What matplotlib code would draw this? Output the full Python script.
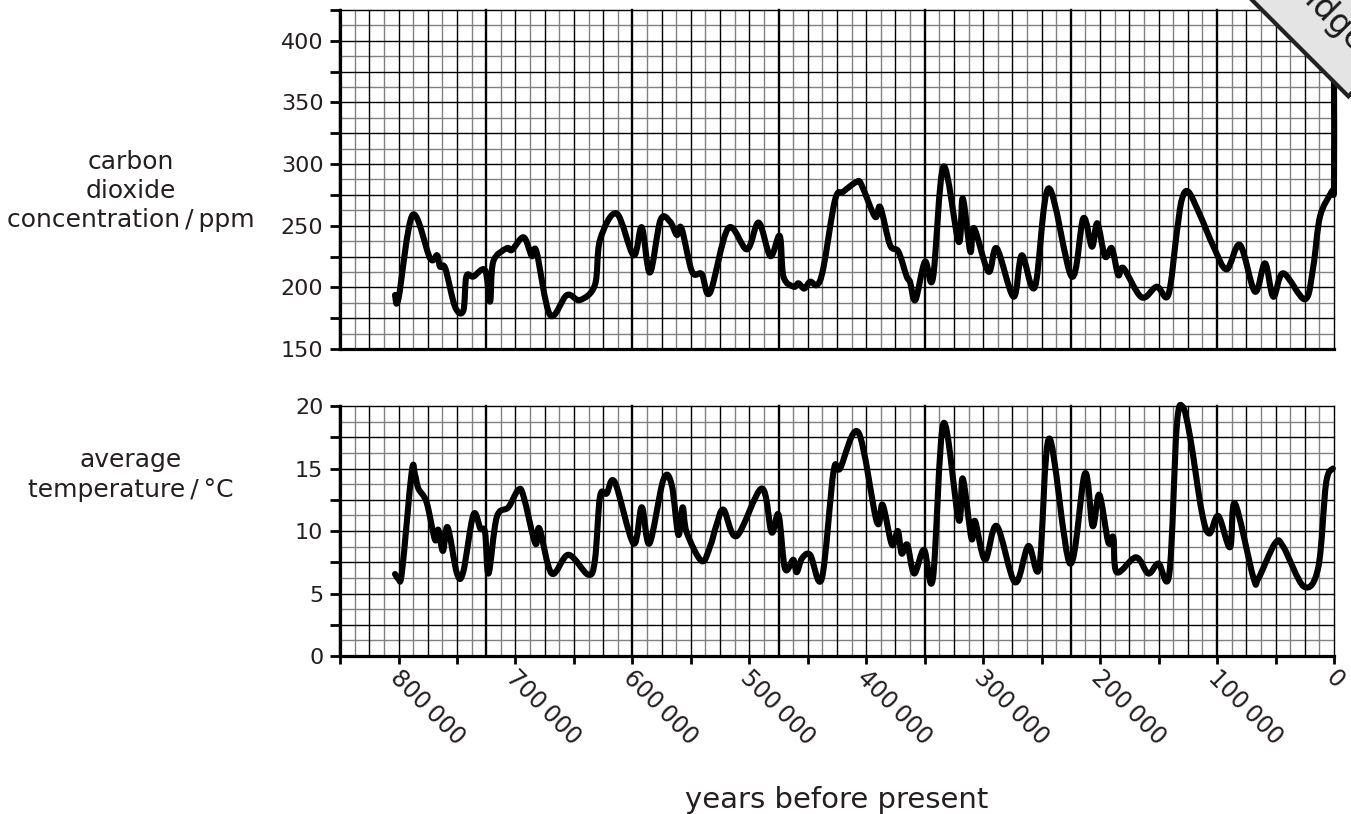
import numpy as np
import matplotlib
matplotlib.use("Agg")
import matplotlib.pyplot as plt
from matplotlib.path import Path
from matplotlib.patches import PathPatch
from matplotlib.transforms import ScaledTranslation

plt.rcParams["font.family"] = ["DejaVu Sans"]
TXT = "#231f20"

# years before present (thousands) and CO2 (ppm)
co2_kyr = [803, 800, 788, 773, 767, 764.5, 760, 751.7, 744.6, 742,
           736, 726, 721.7, 719, 707.5, 703, 693, 686, 682, 670.4,
           656, 644.8, 632, 627.7, 613.5, 599, 592, 585, 576, 567.8,
           562, 558, 549, 540.7, 533.6, 518, 502, 492, 482, 474,
           470.8, 462, 458, 453, 448, 442, 436.7, 426.7, 419.6, 408,
           404, 392.5, 388, 379.7, 372.5, 365.4, 362.6, 358, 349.8, 343,
           334, 321, 317.5, 311, 307.8, 295.5, 288.4, 274, 267, 255.7,
           244, 224.3, 214.4, 207, 202.4, 195.8, 190, 184.5, 180, 164.5,
           151.6, 141.7, 134.5, 130.2, 124.6, 114.6, 103, 91.8, 80.4, 67.6,
           59, 51.9, 43.4, 24.8, 17.7, 12, 2, 0, 0]
co2_ppm = [193.8, 191, 258.7, 223.6, 226, 216.8, 215.4, 184.3, 181, 208.7,
           208.7, 214, 188.4, 220.8, 231.7, 230.3, 240.6, 225.4, 229, 177.6,
           193.8, 189.7, 202, 238.4, 260, 226, 248.7, 212, 254.6, 253.3,
           242.5, 248, 212.7, 210.8, 195.7, 248, 230.8, 252.5, 225.4, 241.7,
           208.7, 200.5, 203.3, 199, 204.6, 202, 215.5, 270.9, 277.6, 285.7,
           283, 257.3, 265, 234.4, 229, 208.7, 204.6, 189.7, 220.8, 207.3,
           297.9, 237, 272.2, 229, 248, 212.7, 231.7, 192.4, 226, 200.5,
           280.3, 208.7, 256, 233, 252, 225, 231.7, 210, 215.5, 191.9,
           200.5, 193.8, 243.9, 270.9, 277.6, 258.7, 233, 214.6, 234.4, 196.5,
           219.5, 192.4, 211.4, 190.3, 216.8, 257.3, 277.6, 282, 370]

# years before present (thousands) and average temperature (°C)
temp_kyr = [803, 800, 797, 788.7, 785.9, 783, 776, 768.8, 766, 762,
            758, 750, 744.6, 736, 730, 726, 723, 716, 706, 697.5,
            693, 683, 679.5, 669, 654.7, 637.7, 632, 627.7, 622, 615,
            599, 592, 585.4, 573.5, 566.4, 560.7, 557, 553.6, 540.8, 533.6,
            528, 522, 510.8, 489.4, 481, 475, 469.5, 462.4, 459.5, 455,
            448, 438, 428, 422.4, 406.8, 391, 386, 378, 373, 369.7,
            364.9, 359, 350.6, 343, 334, 321, 317.5, 310, 307, 298.4,
            288.4, 272.8, 261.4, 252, 243.5, 225.8, 213, 206.4, 200.7, 193,
            188.7, 185.8, 169.3, 158.8, 150.2, 140.8, 134.5, 129.4, 123, 113,
            106.6, 98.9, 88.9, 84.7, 69, 64.7, 50.5, 43.4, 25.7, 13.4,
            6.8, 1]
temp_c = [6.56, 6.2, 6.75, 14.75, 14.5, 13.4, 12.3, 9.3, 10.1, 8.4,
          10.3, 6.6, 6.75, 11.3, 10.2, 9.9, 6.6, 11.1, 11.9, 13.3,
          12.75, 9.0, 10.2, 6.6, 8.1, 6.5, 7.7, 12.75, 13.0, 13.9,
          9.0, 11.9, 9.0, 14.1, 13.7, 9.7, 11.9, 9.9, 7.6, 8.75,
          10.5, 11.7, 9.6, 13.4, 9.9, 11.3, 7.0, 7.7, 6.7, 7.8,
          8.1, 6.2, 14.75, 15.0, 17.9, 10.75, 12.1, 8.9, 10.0, 8.2,
          8.9, 6.6, 8.5, 6.2, 18.6, 10.9, 14.2, 9.4, 10.8, 7.7,
          10.4, 5.9, 8.8, 7.1, 17.4, 7.4, 14.6, 10.4, 12.9, 9.1,
          9.5, 6.7, 7.9, 6.6, 7.4, 6.6, 18.35, 19.95, 17.5, 11.5,
          9.8, 11.2, 8.7, 12.2, 6.3, 6.2, 9.0, 8.75, 5.55, 7.1,
          13.8, 15.0]

x_ticks = np.arange(0, 850001, 50000)
x_labels = ["0" if v == 0 else (f"{v // 1000}\u2009000" if v % 100000 == 0 else "")
            for v in x_ticks]


def smooth_line(ax, xs, ys, lw=4.4):
    # draw a hand-drawn looking curve through the read points (Catmull-Rom as beziers)
    pts = np.column_stack([xs, ys]).astype(float)
    ext = np.vstack([pts[0], pts, pts[-1]])
    verts = [pts[0]]
    codes = [Path.MOVETO]
    for i in range(1, len(ext) - 2):
        p0, p1, p2, p3 = ext[i - 1], ext[i], ext[i + 1], ext[i + 2]
        verts += [p1 + (p2 - p0) / 6, p2 - (p3 - p1) / 6, p2]
        codes += [Path.CURVE4] * 3
    patch = PathPatch(Path(verts, codes), fill=False, edgecolor="black", lw=lw,
                      capstyle="round", joinstyle="round", zorder=2, clip_on=False)
    ax.add_patch(patch)


def paper_grid(ax, ymin, ymax, ystep):
    # graph paper: grey half-cells, black cells, heavy every 5 cells
    for v in np.arange(0, 850001, 12500):
        if v % 125000 == 100000 and v > 0:
            ax.axvline(v, color="black", lw=1.7, zorder=1, clip_on=False)
        elif v % 25000 == 0:
            ax.axvline(v, color="black", lw=1.0, zorder=1, clip_on=False)
        else:
            ax.axvline(v, color="#808080", lw=1.0, zorder=0.9, clip_on=False)
    for v in np.arange(ymin, ymax + 1e-9, ystep / 2):
        k = (v - ymin) / ystep
        if abs(k - round(k)) < 1e-6:
            ax.axhline(v, color="black", lw=1.0, zorder=1, clip_on=False)
        else:
            ax.axhline(v, color="#808080", lw=1.0, zorder=0.9, clip_on=False)


def style_axes(ax):
    for side in ["top", "right"]:
        ax.spines[side].set_visible(False)
    for side in ["left", "bottom"]:
        ax.spines[side].set_linewidth(2.3)
        ax.spines[side].set_zorder(3)
    ax.tick_params(axis="y", length=7, width=2, pad=5, labelsize=16, labelcolor=TXT)
    ax.set_xlim(850000, 0)


fig = plt.figure(figsize=(13.51, 8.14), dpi=100)
ax1 = fig.add_axes([0.2517, 0.5713, 0.7357, 0.4164])
ax2 = fig.add_axes([0.2517, 0.1941, 0.7357, 0.3071])

# carbon dioxide panel
style_axes(ax1)
ax1.set_ylim(150, 425)
paper_grid(ax1, 150, 425, 25)
smooth_line(ax1, np.array(co2_kyr) * 1000, co2_ppm)
ax1.set_yticks(np.arange(150, 426, 25))
ax1.set_yticklabels([str(int(v)) if v % 50 == 0 else "" for v in np.arange(150, 426, 25)])
ax1.tick_params(axis="x", bottom=False, labelbottom=False)
ax1.set_ylabel("carbon\ndioxide\nconcentration\u2009/\u2009ppm", rotation=0,
               fontsize=18, color=TXT, ha="center", va="center", linespacing=1.25)
ax1.yaxis.set_label_coords(-0.211, 0.466)

# temperature panel
style_axes(ax2)
ax2.set_ylim(0, 20)
paper_grid(ax2, 0, 20, 2.5)
smooth_line(ax2, np.array(temp_kyr) * 1000, temp_c)
ax2.set_yticks(np.arange(0, 20.01, 2.5))
ax2.set_yticklabels([str(int(v)) if v % 5 == 0 else "" for v in np.arange(0, 20.01, 2.5)])
ax2.set_ylabel("average\ntemperature\u2009/\u2009°C", rotation=0,
               fontsize=18, color=TXT, ha="center", va="center", linespacing=1.35)
ax2.yaxis.set_label_coords(-0.211, 0.724)

ax2.set_xticks(x_ticks)
ax2.set_xticklabels(x_labels, rotation=-45, ha="left", va="center",
                    rotation_mode="anchor", fontsize=17, color=TXT)
ax2.tick_params(axis="x", length=6, width=2, pad=7)
shift = ScaledTranslation(-5 / 100, 0, fig.dpi_scale_trans)
for lab in ax2.get_xticklabels():
    lab.set_transform(lab.get_transform() + shift)
ax2.set_xlabel("years before present", fontsize=21, color=TXT)
ax2.xaxis.set_label_coords(0.5, -0.52)

# corner stamp, mostly off the page
fig.text(1.0067, 0.9423, "Cambridge", rotation=-45, rotation_mode="anchor",
         ha="right", va="center", fontsize=24, color="#1a1a1a",
         bbox=dict(boxstyle="square,pad=0.8", facecolor="#e4e4e4",
                   edgecolor="#222222", lw=3))

fig.savefig("out.png", dpi=100)
